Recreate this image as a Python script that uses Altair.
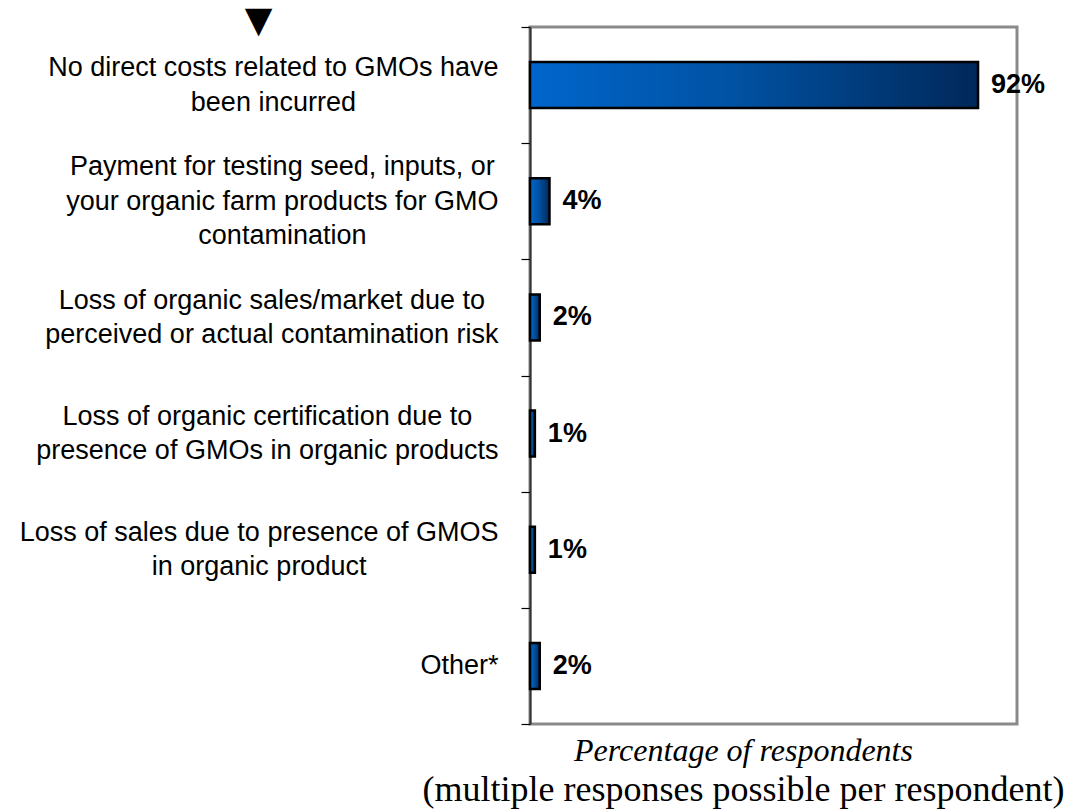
import json
import altair as alt
import pandas as pd

# ---------------- data ----------------
categories = [
    ["No direct costs related to GMOs have", "been incurred"],
    ["Payment for testing seed, inputs, or", "your organic farm products for GMO", "contamination"],
    ["Loss of organic sales/market due to", "perceived or actual contamination risk"],
    ["Loss of organic certification due to", "presence of GMOs in organic products"],
    ["Loss of sales due to presence of GMOS", "in organic product"],
    ["Other*"],
]
values = [92, 4, 2, 1, 1, 2]
value_labels = ["92%", "4%", "2%", "1%", "1%", "2%"]
x_axis_title = "Percentage of respondents"
x_axis_subtitle = "(multiple responses possible per respondent)"

# ---------------- layout / style ----------------
W, H = 487, 697
LABEL_SIZE = 27
LINE_H = 34.5
TICK = 9

# Arial / Liberation Sans advance widths (1/1000 em) for centring the label blocks
ARIAL = {
    " ": 278, ",": 278, "/": 278, "*": 389,
    "a": 556, "b": 556, "c": 500, "d": 556, "e": 556, "f": 278, "g": 556, "h": 556,
    "i": 222, "k": 500, "l": 222, "m": 833, "n": 556, "o": 556, "p": 556, "r": 333,
    "s": 500, "t": 278, "u": 556, "v": 500, "y": 500, "w": 722, "x": 500,
    "N": 722, "G": 778, "M": 833, "O": 778, "P": 667, "L": 556, "S": 667,
}


def text_width(s, size):
    return sum(ARIAL.get(ch, 556) for ch in s) * size / 1000.0


n = len(categories)
df = pd.DataFrame({
    "pos": [i + 0.5 for i in range(n)],
    "value": values,
    "label": value_labels,
})

step = H / n
label_expr = json.dumps(categories) + "[datum.value] || ''"
label_padding = {
    "condition": [
        {"test": f"datum.value === {i}",
         "value": round(23 + max(text_width(l, LABEL_SIZE) for l in lines) / 2.0, 1)}
        for i, lines in enumerate(categories)
    ],
    "value": 0,
}
label_offset = {
    "condition": [
        {"test": f"datum.value === {i}",
         "value": round(step / 2.0 - (len(lines) - 1) * LINE_H / 2.0, 2)}
        for i, lines in enumerate(categories)
    ],
    "value": 0,
}
label_size = {"condition": {"test": f"datum.value >= {n}", "value": 1}, "value": LABEL_SIZE}

y_axis = alt.Axis(
    values=list(range(n + 1)),
    labelExpr=label_expr,
    labelAlign="center",
    labelBaseline="middle",
    labelPadding=label_padding,
    labelOffset=label_offset,
    labelFont="Liberation Sans",
    labelFontSize=label_size,
    labelColor="black",
    labelLineHeight=LINE_H,
    labelLimit=0,
    labelOverlap=False,
    labelFlush=False,
    labelBound=False,
    ticks=True,
    tickSize=TICK,
    tickColor="black",
    tickWidth=1.2,
    domain=True,
    domainColor="#333333",
    domainWidth=2,
    grid=False,
    title="▼",
    titleAngle=0,
    titleX=-272,
    titleY=-24,
    titleAlign="center",
    titleBaseline="top",
    titleFont="DejaVu Sans",
    titleFontSize=36,
    titleFontWeight="normal",
    titleColor="black",
)

x_enc = alt.X("value:Q", scale=alt.Scale(domain=[0, 100], nice=False, zero=True, padding=0),
              axis=None, stack=None)
y_enc = alt.Y("pos:Q", scale=alt.Scale(domain=[0, n], reverse=True, nice=False, zero=False, padding=0),
              axis=y_axis)

gradient = alt.LinearGradient(
    gradient="linear",
    stops=[
        alt.GradientStop(color="#0066cc", offset=0),
        alt.GradientStop(color="#0052a3", offset=0.45),
        alt.GradientStop(color="#00285a", offset=1),
    ],
    x1=0, x2=1, y1=0, y2=0,
)

base = alt.Chart(df)

bars = base.mark_bar(
    orient="horizontal", height=46, color=gradient, stroke="black", strokeWidth=2.5
).encode(x=x_enc, y=y_enc)

texts = base.mark_text(
    align="left", baseline="middle", dx=13,
    font="Liberation Sans", fontSize=27, fontWeight="bold", color="black",
).encode(x=x_enc, y=y_enc, text="label:N")

chart = alt.layer(bars, texts).properties(
    width=W,
    height=H,
    title=alt.TitleParams(
        text=x_axis_title,
        subtitle=x_axis_subtitle,
        orient="bottom",
        anchor="middle",
        frame="group",
        dx=-30,
        offset=11,
        baseline="top",
        font="Liberation Serif",
        fontSize=32,
        fontStyle="italic",
        fontWeight="normal",
        color="black",
        subtitleFont="Liberation Serif",
        subtitleFontSize=36,
        subtitleColor="black",
        subtitlePadding=5,
    ),
    autosize=alt.AutoSizeParams(type="none"),
    padding={"left": 522, "top": 19, "right": 57, "bottom": 85},
).configure_view(stroke="#8a8a8a", strokeWidth=3)

chart.save("out.html", embed_options={"renderer": "svg", "actions": False})
